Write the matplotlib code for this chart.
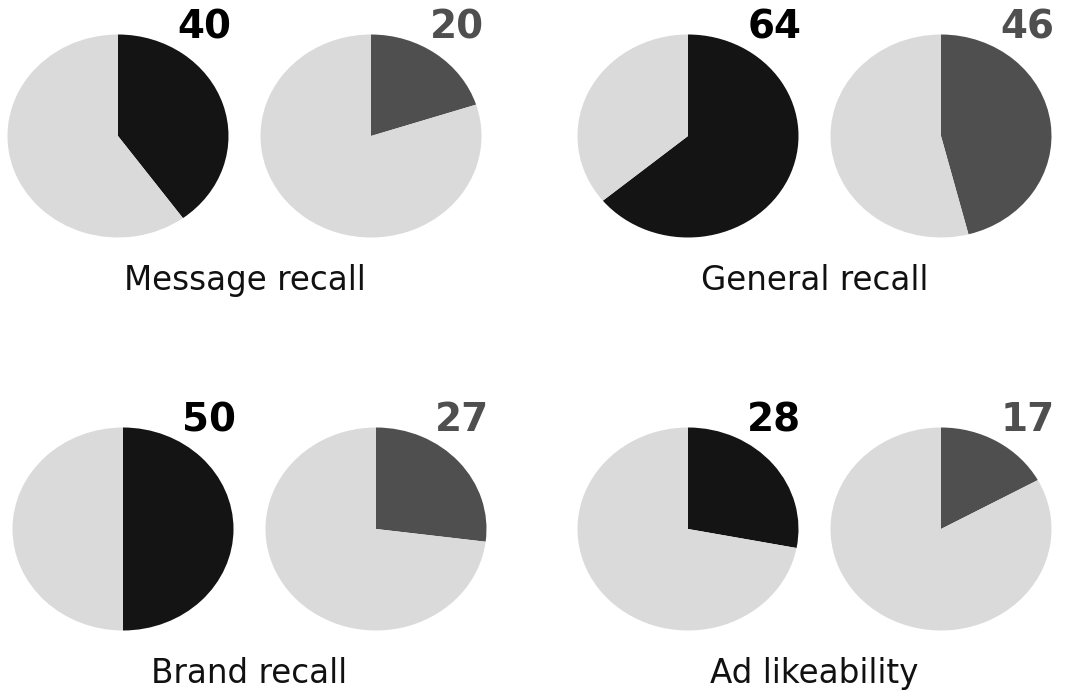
import matplotlib
matplotlib.use("Agg")
import matplotlib.pyplot as plt

# data
metrics = ["Message recall", "General recall", "Brand recall", "Ad likeability"]
first_vals = [40, 64, 50, 28]
second_vals = [20, 46, 27, 17]

light = "#dadada"
dark = "#141414"
mid = "#4f4f4f"

W, H = 1073, 692
fig = plt.figure(figsize=(W / 100, H / 100), dpi=100)

# pie centres in pixels (x1, x2, y) for each group
centres = [(118, 371, 136), (688, 941, 136), (123, 376, 529), (688, 941, 529)]
pw, ph = 221, 203


def add_pie(cx, cy, val, col, numcol):
    ax = fig.add_axes([(cx - pw / 2) / W, 1 - (cy + ph / 2) / H, pw / W, ph / H])
    ax.pie([val, 100 - val], colors=[col, light], startangle=90,
           counterclock=False, radius=1)
    ax.set_aspect("auto")
    ax.set_xlim(-1, 1)
    ax.set_ylim(-1, 1)
    ax.text(0.89, 1.035, str(val), transform=ax.transAxes, ha="center",
            va="center", fontsize=28, fontweight="bold", color=numcol)
    return ax


for name, a, b, (x1, x2, cy) in zip(metrics, first_vals, second_vals, centres):
    add_pie(x1, cy, a, dark, "black")
    add_pie(x2, cy, b, mid, mid)
    fig.text((x1 + x2) / 2 / W, 1 - (cy + 154) / H, name,
             ha="center", va="baseline", fontsize=23.5, color="#111111")

fig.savefig("out.png", dpi=100, facecolor="white")
